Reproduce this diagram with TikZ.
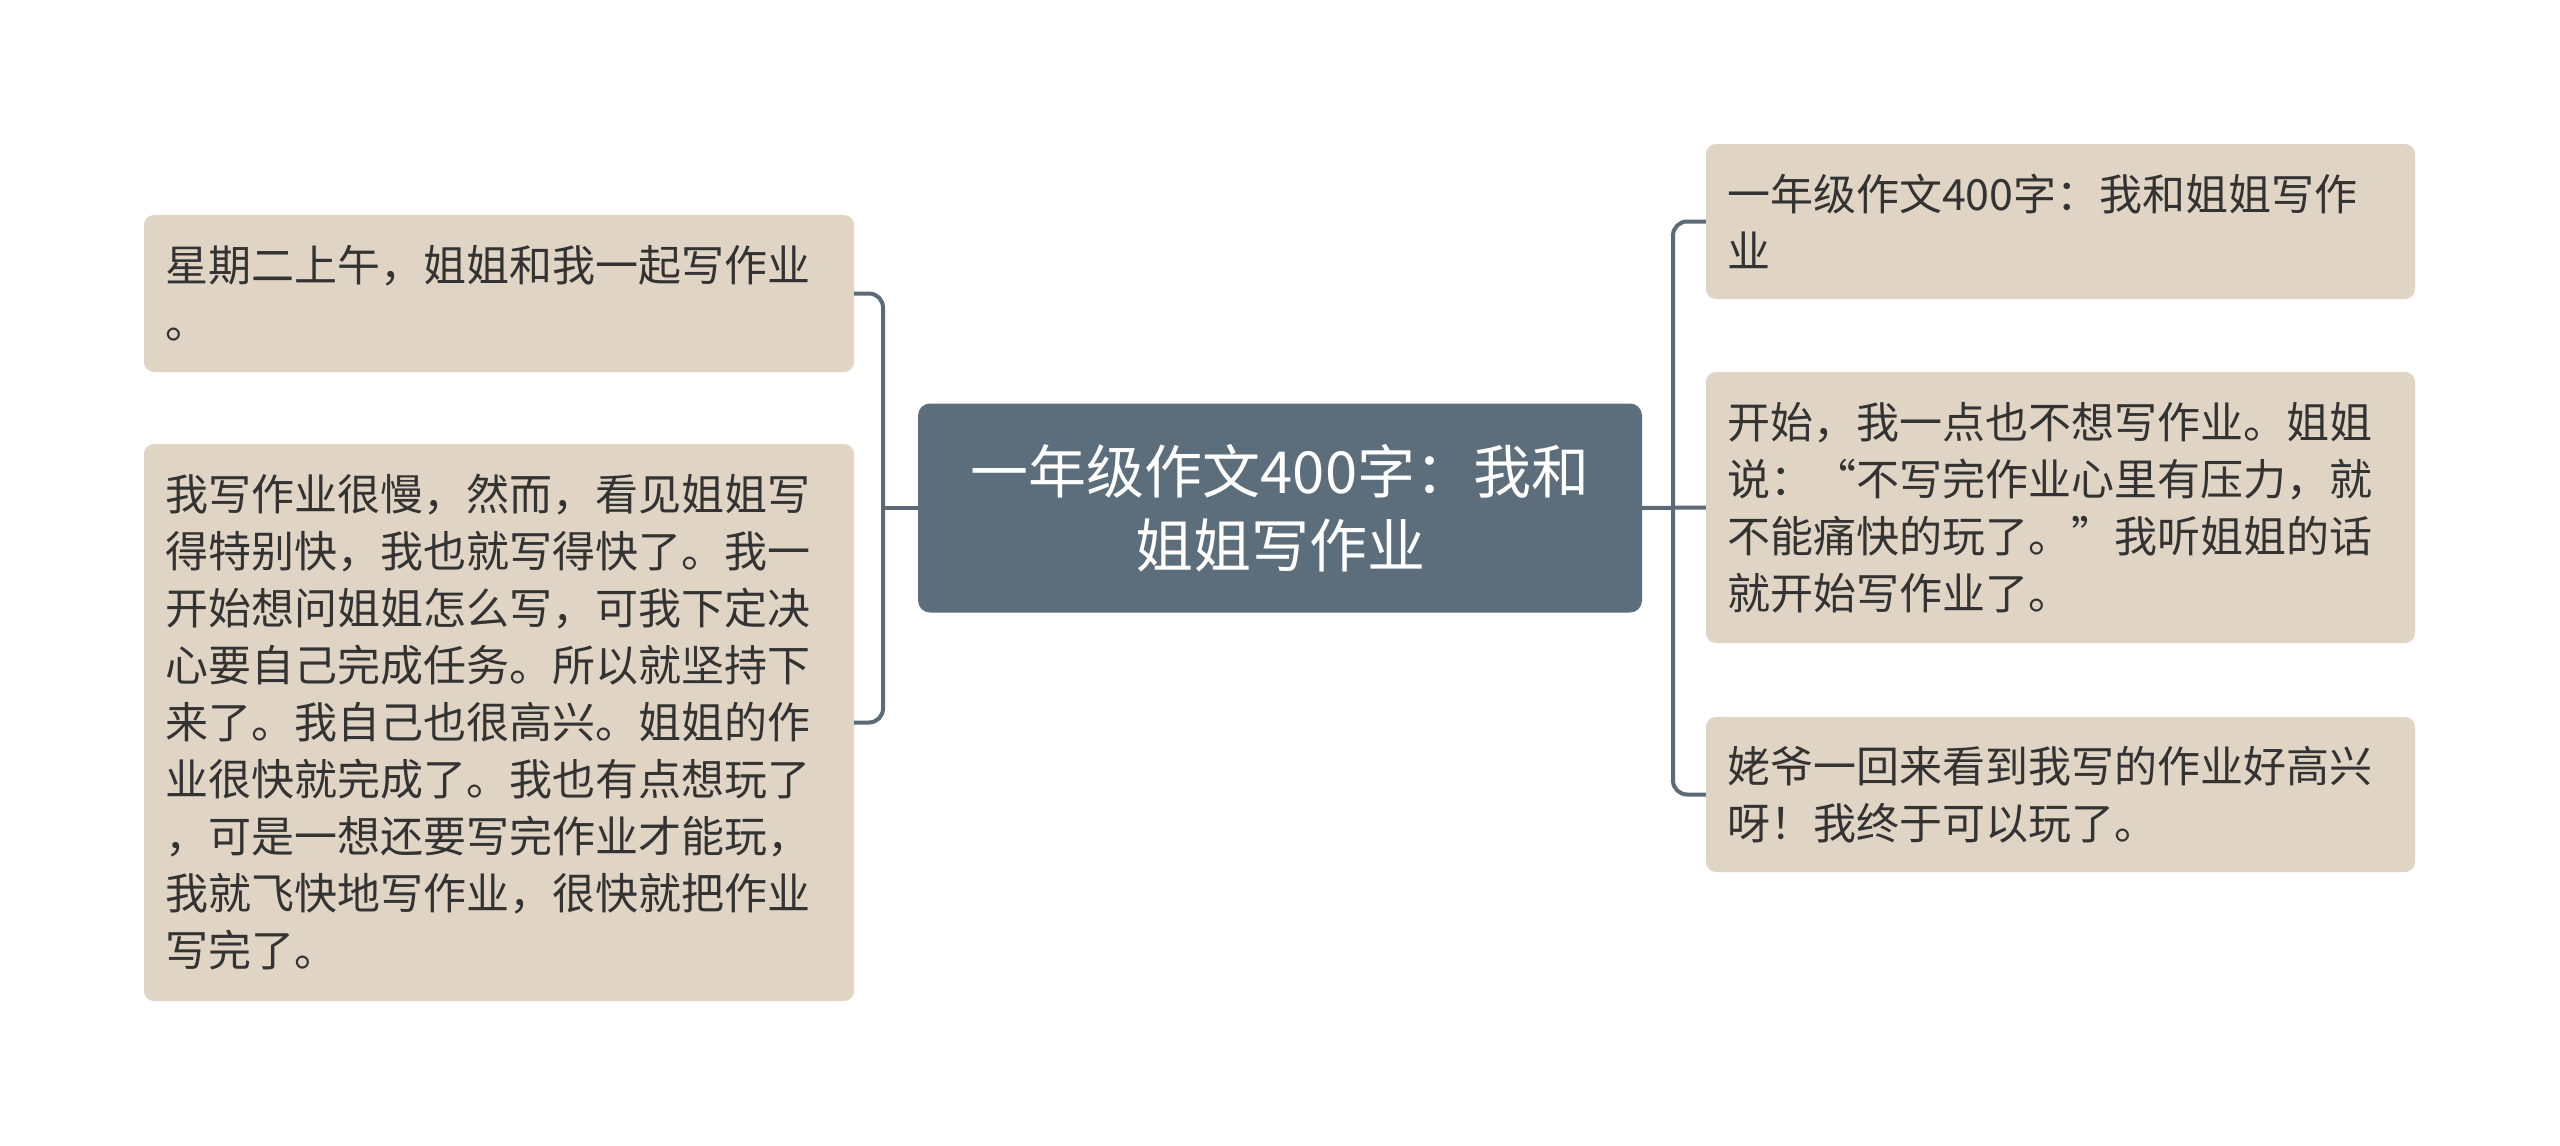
\documentclass[tikz,border=0pt]{standalone}
\usepackage{fontspec}
\setmainfont{Noto Sans CJK SC}
\newcommand\oqt{\makebox[1em][r]{“}}
\newcommand\cqt{\makebox[1em][l]{”}}
\definecolor{beige}{HTML}{E0D5C4}
\definecolor{slate}{HTML}{5C6E7B}
\definecolor{lineclr}{HTML}{5B6B78}
\definecolor{txt}{HTML}{333333}
\tikzset{
  x=1pt, y=-1pt,
  leaf/.style={fill=beige, draw=none, rounded corners=10pt, text=txt,
    align=left, inner xsep=21pt, inner ysep=0pt,
    font=\fontsize{43pt}{57pt}\selectfont},
  root/.style={fill=slate, draw=none, rounded corners=12pt, text=white,
    align=center, inner sep=0pt, minimum width=724pt, minimum height=209pt,
    font=\fontsize{58pt}{74pt}\selectfont},
  conn/.style={draw=lineclr, line width=4pt, rounded corners=14pt}
}
\begin{document}
\begin{tikzpicture}
\useasboundingbox[fill=white] (0,0) rectangle (2560,1146);

\node[root] (c) at (1280,508) {一年级作文400字：我和\\姐姐写作业};

\node[leaf, text width=668pt, minimum height=157pt] (l1) at (499,293.5)
  {星期二上午，姐姐和我一起写作业\\。};
\node[leaf, text width=668pt, minimum height=557pt] (l2) at (499,722.5)
  {我写作业很慢，然而，看见姐姐写\\得特别快，我也就写得快了。我一\\开始想问姐姐怎么写，可我下定决\\心要自己完成任务。所以就坚持下\\来了。我自己也很高兴。姐姐的作\\业很快就完成了。我也有点想玩了\\，可是一想还要写完作业才能玩，\\我就飞快地写作业，很快就把作业\\写完了。};

\node[leaf, text width=667pt, minimum height=155pt] (r1) at (2060.5,221.5)
  {一年级作文400字：我和姐姐写作\\业};
\node[leaf, text width=667pt, minimum height=271pt] (r2) at (2060.5,507.5)
  {开始，我一点也不想写作业。姐姐\\说：\oqt 不写完作业心里有压力，就\\不能痛快的玩了。\cqt 我听姐姐的话\\就开始写作业了。};
\node[leaf, text width=667pt, minimum height=155pt] (r3) at (2060.5,794.5)
  {姥爷一回来看到我写的作业好高兴\\呀！我终于可以玩了。};

\coordinate (jl) at (883,508);
\coordinate (jr) at (1673,508);

\draw[conn] (c.west) -- (jl);
\draw[conn] (l1.east) -| (jl);
\draw[conn] (l2.east) -| (jl);
\draw[conn] (c.east) -- (r2.west);
\draw[conn] (r1.west) -| (jr);
\draw[conn] (r3.west) -| (jr);
\end{tikzpicture}
\end{document}
